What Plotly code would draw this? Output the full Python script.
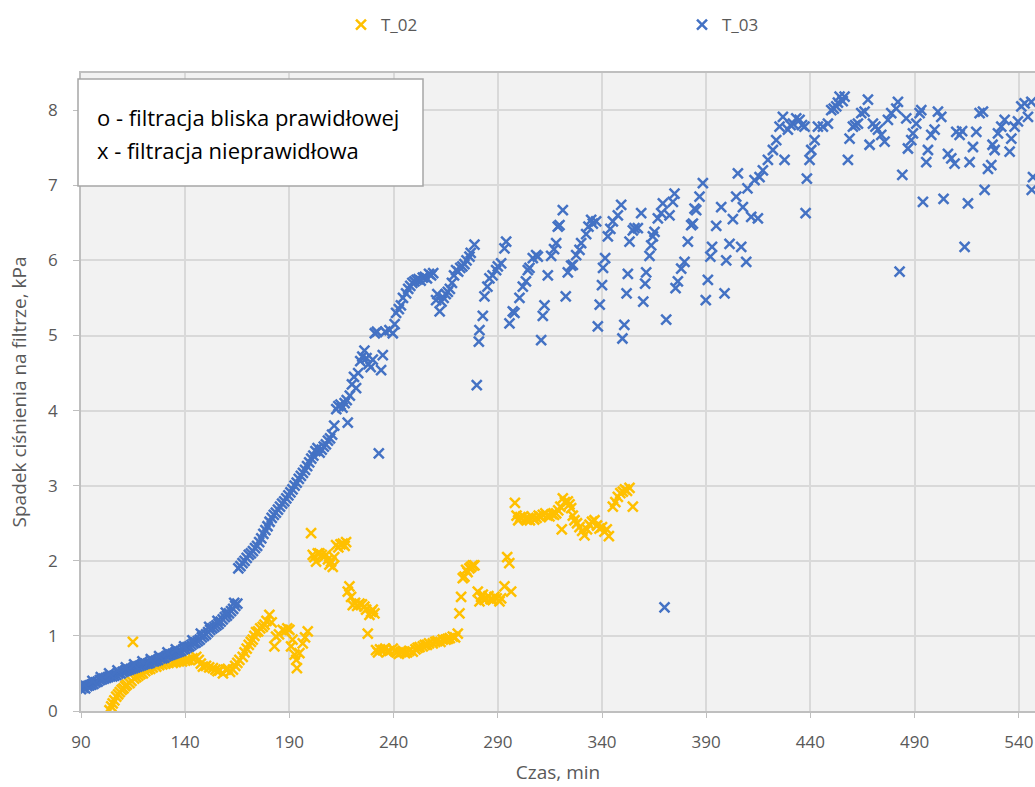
import plotly.graph_objects as go

# ---------------- data ----------------
t02_x = [103.7, 104.5, 105.2, 106, 106.9, 107.8, 108.6, 109.5, 110.4, 111.2, 112, 113.3, 114.2, 114.9, 115.5,
         116.5, 117.5, 118.5, 119.7, 120.8, 122, 123.2, 124.4, 126.1, 127.5, 129, 130.5, 132, 134, 135.5,
         137, 138.5, 140, 141, 142, 143.5, 145.3, 146.5, 147.5, 148.5, 150, 151.5, 153.3, 154.5, 155.5,
         156.5, 158.1, 159.5, 160.5, 161.5, 162.9, 164, 165, 166, 167.6, 168.5, 169.5, 170.5, 171.5, 172.4,
         173.2, 174, 175, 176, 177.2, 178, 179, 180.4, 181.5, 182.8, 183.6, 185, 186.8, 188, 189, 190,
         190.8, 191.5, 192.5, 193.3, 193.6, 194.8, 196.4, 197.5, 198.8, 200.4, 201.2, 202, 202.8, 203.6,
         204.4, 205.5, 206.5, 207.6, 208.5, 209.2, 210, 210.8, 211.5, 212.4, 213.5, 214.5, 215.6, 216.5,
         217.2, 218, 218.8, 219.6, 220.4, 221.5, 222.5, 223.6, 224.8, 226, 226.8, 227.6, 228.4, 229.2, 230,
         230.8, 231.6, 232.5, 233.5, 234.8, 236, 237, 238, 239.6, 240.5, 241.5, 242.5, 243.5, 244.4, 245.5,
         246.5, 247.5, 249.2, 250.5, 251.5, 252.5, 254, 255, 256, 257, 258.8, 260, 261, 262.5, 263.6, 265,
         266, 267, 268.4, 269.5, 270.8, 271.6, 272.4, 273.2, 274, 274.8, 275.5, 276.4, 277.2, 278, 278.8,
         280.4, 281.2, 282, 282.8, 283.6, 284.4, 285.5, 286.5, 287.6, 288.4, 289.5, 290.8, 291.6, 293.2,
         294.5, 295.5, 296.4, 298.2, 299, 299.8, 300.8, 302.2, 303.2, 304.2, 305.4, 306.5, 307.5, 308.6,
         309.6, 310.6, 311.6, 312.8, 313.8, 314.8, 316, 317, 318, 319, 320, 320.7, 321.2, 322.2, 323.6,
         324.4, 325.2, 326, 326.8, 328, 329.2, 330.5, 331.6, 332.8, 334, 335.2, 336.4, 337.6, 338.8, 340,
         341.2, 342.3, 343.3, 345.2, 346.4, 347.6, 348.8, 350, 351, 352, 353.2, 354.8]
t02_y = [0.01, 0.06, 0.10, 0.14, 0.19, 0.22, 0.25, 0.28, 0.30, 0.33, 0.35, 0.37, 0.40, 0.92, 0.43,
         0.45, 0.47, 0.49, 0.50, 0.53, 0.55, 0.56, 0.58, 0.59, 0.61, 0.62, 0.63, 0.64, 0.64, 0.65,
         0.66, 0.66, 0.67, 0.68, 0.68, 0.70, 0.72, 0.68, 0.63, 0.59, 0.60, 0.58, 0.57, 0.55, 0.53,
         0.54, 0.50, 0.55, 0.56, 0.52, 0.55, 0.60, 0.64, 0.68, 0.72, 0.78, 0.83, 0.88, 0.92, 0.95,
         1.00, 1.05, 1.06, 1.10, 1.12, 1.15, 1.20, 1.28, 1.18, 0.86, 0.99, 1.02, 1.08, 1.06, 1.10, 1.08,
         0.86, 0.95, 0.75, 0.68, 0.57, 0.77, 0.90, 0.98, 1.06, 2.37, 2.08, 2.05, 1.99, 2.10,
         2.10, 2.08, 2.05, 2.08, 2.02, 1.95, 1.99, 1.92, 2.05, 2.21, 2.18, 2.22, 2.23, 2.20,
         2.25, 1.59, 1.66, 1.52, 1.41, 1.44, 1.40, 1.43, 1.42, 1.39, 1.35, 1.03, 1.28, 1.32, 1.35,
         1.30, 0.81, 0.78, 0.82, 0.81, 0.83, 0.79, 0.80, 0.83, 0.80, 0.78, 0.76, 0.78, 0.79, 0.77,
         0.78, 0.80, 0.79, 0.82, 0.84, 0.85, 0.86, 0.88, 0.88, 0.90, 0.90, 0.92, 0.93, 0.92, 0.95, 0.95,
         0.96, 0.97, 0.99, 0.98, 1.03, 1.30, 1.52, 1.77, 1.79, 1.88, 1.85, 1.90, 1.92, 1.94, 1.94,
         1.59, 1.46, 1.52, 1.55, 1.48, 1.50, 1.53, 1.49, 1.48, 1.52, 1.50, 1.46, 1.50, 1.66,
         2.05, 1.97, 1.59, 2.77, 2.60, 2.54, 2.58, 2.59, 2.56, 2.55, 2.54, 2.58, 2.55, 2.57,
         2.60, 2.58, 2.61, 2.63, 2.60, 2.59, 2.62, 2.61, 2.63, 2.67, 2.72, 2.42, 2.83, 2.78, 2.79,
         2.75, 2.70, 2.60, 2.54, 2.50, 2.45, 2.40, 2.34, 2.42, 2.48, 2.52, 2.54, 2.47, 2.43, 2.45,
         2.39, 2.42, 2.33, 2.72, 2.78, 2.85, 2.90, 2.92, 2.95, 2.93, 2.97, 2.72]

t03_x = [90, 91, 92, 93, 94, 95, 96, 97, 98, 99, 100, 101, 102, 103, 104, 105, 106, 107, 108, 109,
         110, 111, 112, 113, 114, 115, 116, 117, 118, 119, 120, 121, 122, 123, 124, 125, 126, 127, 128, 129,
         130, 131, 132, 133, 134, 135, 136, 137, 138, 139, 140, 141, 142, 143, 144, 145, 146, 147, 148, 149,
         150, 151, 152, 153, 154, 155, 156, 157, 158, 159, 160, 161, 162, 163, 164, 165,
         91.5, 95.5, 99.5, 103.5, 107.5, 111.5, 115.5, 119.5, 123.5, 127.5, 131.5, 135.5, 139.5, 143.5,
         147.5, 151.5, 155.5, 159.5, 163.5,
         165.5, 166.5, 167.5, 168.5, 169.5, 170.5, 171.5, 172.5, 173.5, 174.5, 175.5, 176.5, 177.5, 178.5,
         179.5, 180.5, 181.5, 182.5, 183.5, 184.5, 185.5, 186.5, 187.5, 188.5, 189.5, 190.5, 191.5, 192.5,
         193.5, 194.5, 195.5, 196.5, 197.5, 198.5, 199.5, 200.5, 201.5, 202.5, 203.5, 204.5, 205.5, 206.5,
         207.5, 208.5, 209.5, 210.5, 211.5, 212.5, 213.5, 214.5, 215.5, 216.5, 217.5, 218, 219, 220, 221,
         222, 223, 224, 225, 226, 227, 228, 229, 230, 231, 232, 232.9, 234, 234.8, 236, 238, 239.6, 240.5,
         241.2, 242.5, 243.5, 244.5, 246, 247, 248, 249, 250, 251, 252, 253, 254, 255, 256, 257, 258, 259,
         260.4, 261, 262.1, 263, 264, 265, 266, 267, 268, 269, 270, 271, 272, 273, 274, 275, 276.4, 277,
         278.8,
         279.9, 280.9, 281.2, 282.8, 283.6, 285, 286, 287.5, 289.2, 290, 291.6, 293.2, 294,
         295.6, 297.2, 298, 300.4, 302, 303.5, 304.4, 305.2, 306.8, 308.4, 309.2,
         310.8, 311.6, 312.4, 314, 315.6, 317, 318, 318.8, 319.6, 321.2,
         322.6, 323.6, 325.2, 326, 327.6, 329.2, 330, 332.4, 333.5, 334.8, 335.6, 337.2,
         338, 338.9, 340, 340.5, 341.5, 342.8, 344, 345.2, 347.6, 349.2,
         349.8, 350.7, 351.8, 352.4, 353.2, 354.8, 355.6, 357.2, 358.8,
         359.8, 360.7, 361.2, 362.8, 363.6, 364.4, 365.2, 366.8, 368.4, 369.2,
         370, 370.8, 372.4, 374, 374.8,
         375.3, 376.4, 378, 379.6, 381.2, 382.8, 383.6, 384.4, 385.2, 386.8, 388.4,
         389.8, 390.8, 392, 392.8, 394.8, 397.2,
         398.8, 399.6, 401.2, 402.8, 404.4, 405.2,
         406.8, 407.6, 409.2, 409.8, 411.6, 413.2, 414.8, 415.6, 417.2, 419.6, 422, 423.6, 425.2, 426.8,
         427.6, 429.2, 430.5, 431.6, 433.2, 434.8, 436, 437.2, 437.7, 438.3, 439.6, 440.4, 442, 443.6,
         446, 448.4, 450, 451.2, 452.4, 453.2, 454, 455.5, 456.4, 458, 458.8, 460.4, 461.5, 462.8,
         464.4, 466, 467.6, 468.4, 470, 471.2, 472.4, 474, 475.6, 477.2, 478.8, 481.2, 482, 482.8,
         484.1, 486, 486.8, 488.4, 489.2, 490.8, 492.4, 493.2, 494, 495.6, 496.4, 498, 499.6, 501.2,
         502.8, 503.9, 506, 507.6, 509.2, 510, 511.6, 512.8, 514, 515.6, 516.4, 518, 519.6, 521.2,
         522.8, 523.6, 525.2, 526.8, 527.4, 528.4, 530, 531.6, 533.2, 535.6, 536.4, 538, 539.6, 541.2,
         542.8, 544.4, 546, 546.8, 546.2]
t03_y = [0.29, 0.31, 0.30, 0.33, 0.34, 0.35, 0.36, 0.38, 0.39, 0.41, 0.42, 0.43, 0.44, 0.45, 0.46, 0.46,
         0.47, 0.48, 0.50, 0.50, 0.52, 0.53, 0.54, 0.55, 0.56, 0.57, 0.58, 0.59, 0.60, 0.61, 0.62, 0.63,
         0.63, 0.64, 0.66, 0.66, 0.67, 0.68, 0.70, 0.70, 0.71, 0.73, 0.74, 0.75, 0.76, 0.77, 0.78, 0.79,
         0.80, 0.82, 0.83, 0.85, 0.86, 0.88, 0.90, 0.91, 0.93, 0.95, 0.98, 1.00, 1.02, 1.05, 1.08, 1.10,
         1.12, 1.14, 1.16, 1.19, 1.22, 1.25, 1.27, 1.30, 1.33, 1.36, 1.40, 1.43,
         0.35, 0.40, 0.45, 0.50, 0.54, 0.58, 0.62, 0.66, 0.69, 0.73, 0.78, 0.82, 0.86, 0.94,
         1.03, 1.12, 1.20, 1.31, 1.44,
         1.90, 1.93, 1.97, 2.00, 2.04, 2.08, 2.10, 2.13, 2.17, 2.20, 2.25, 2.30, 2.36, 2.41,
         2.46, 2.52, 2.57, 2.61, 2.64, 2.68, 2.72, 2.76, 2.79, 2.83, 2.87, 2.91, 2.95, 3.00,
         3.04, 3.09, 3.13, 3.17, 3.21, 3.26, 3.31, 3.36, 3.40, 3.46, 3.50, 3.44, 3.48, 3.52,
         3.55, 3.60, 3.63, 3.68, 3.80, 4.02, 4.06, 4.08, 4.04, 4.10, 4.14, 3.84, 4.20, 4.35, 4.45,
         4.30, 4.50, 4.66, 4.72, 4.80, 4.70, 4.62, 4.58, 4.68, 5.03, 5.05, 3.43, 4.54, 4.74, 5.05, 5.07, 5.03, 5.15,
         5.30, 5.35, 5.40, 5.50, 5.56, 5.62, 5.66, 5.70, 5.72, 5.74, 5.75, 5.73, 5.77, 5.78, 5.76, 5.82, 5.80, 5.83,
         5.47, 5.55, 5.32, 5.45, 5.50, 5.55, 5.58, 5.62, 5.70, 5.80, 5.87, 5.85, 5.90, 5.92, 5.95, 6.00, 6.05, 6.10,
         6.21,
         4.34, 4.92, 5.07, 5.26, 5.52, 5.65, 5.76, 5.80, 5.87, 5.92, 5.96, 6.16, 6.25,
         5.16, 5.32, 5.30, 5.50, 5.65, 5.72, 5.87, 5.90, 6.03, 6.07, 6.05,
         4.94, 5.26, 5.40, 5.80, 6.06, 6.15, 6.23, 6.45, 6.47, 6.67,
         5.52, 5.84, 5.93, 5.94, 6.07, 6.14, 6.23, 6.35, 6.45, 6.54, 6.49, 6.52,
         5.12, 5.41, 5.67, 5.90, 6.03, 6.32, 6.42, 6.52, 6.60, 6.74,
         4.96, 5.14, 5.56, 5.82, 6.25, 6.40, 6.43, 6.43, 6.63,
         5.45, 5.69, 5.84, 6.06, 6.20, 6.32, 6.38, 6.56, 6.63, 6.76,
         1.38, 5.21, 6.60, 6.78, 6.89,
         5.63, 5.72, 5.89, 5.98, 6.25, 6.47, 6.49, 6.69, 6.67, 6.85, 7.03,
         5.47, 5.74, 6.05, 6.18, 6.46, 6.71,
         5.56, 6.00, 6.22, 6.55, 6.85, 7.16,
         6.18, 6.71, 5.98, 6.96, 6.58, 7.07, 6.56, 7.11, 7.20, 7.34, 7.47, 7.60, 7.78, 7.91,
         7.34, 7.74, 7.80, 7.82, 7.89, 7.87, 7.80, 7.78, 6.63, 7.09, 7.34, 7.47, 7.60, 7.78,
         7.78, 7.82, 8.00, 8.02, 8.05, 8.10, 8.18, 8.12, 8.18, 7.34, 7.62, 7.78, 7.80, 7.82,
         7.96, 7.98, 8.14, 7.54, 7.82, 7.78, 7.74, 7.67, 7.58, 7.87, 7.96, 8.02, 8.11, 5.85,
         7.14, 7.89, 7.49, 7.60, 7.69, 7.82, 7.96, 8.00, 6.78, 7.31, 7.47, 7.67, 7.74, 7.98,
         7.91, 6.82, 7.42, 7.36, 7.29, 7.71, 7.67, 7.72, 6.18, 6.76, 7.31, 7.51, 7.71, 7.96,
         7.98, 6.94, 7.22, 7.27, 7.54, 7.47, 7.69, 7.78, 7.87, 7.45, 7.62, 7.78, 7.85, 8.05,
         8.09, 7.91, 8.11, 7.11, 6.94]

x_ticks = [90, 140, 190, 240, 290, 340, 390, 440, 490, 540]
y_ticks = [0, 1, 2, 3, 4, 5, 6, 7, 8]
note_lines = ["o - filtracja bliska prawidłowej", "x - filtracja nieprawidłowa"]

# ---------------- figure ----------------
FONT = "Open Sans"
GREY = "#595959"
YELLOW = "#FFC000"
BLUE = "#4472C4"

fig = go.Figure()
fig.add_trace(go.Scatter(
    x=t02_x, y=t02_y, mode="markers", name="T_02",
    marker=dict(symbol="x-thin", size=10, color=YELLOW, line=dict(color=YELLOW, width=2.5)),
))
fig.add_trace(go.Scatter(
    x=t03_x, y=t03_y, mode="markers", name="T_03",
    marker=dict(symbol="x-thin", size=10, color=BLUE, line=dict(color=BLUE, width=2.5)),
))

W, H = 1035, 787
L, R, T, B = 81, 0, 73, 76
pw = W - L - R
ph = H - T - B

fig.update_layout(
    width=W, height=H,
    margin=dict(l=L, r=R, t=T, b=B, autoexpand=False),
    paper_bgcolor="white",
    plot_bgcolor="#F2F2F2",
    font=dict(family=FONT, size=16, color=GREY),
    showlegend=True,
    legend=dict(
        orientation="h", x=(341 - L) / pw, xanchor="left",
        y=1 + (T - 25) / ph, yanchor="middle",
        entrywidth=296, entrywidthmode="pixels", itemwidth=30,
        font=dict(family=FONT, size=17, color=GREY),
        bgcolor="rgba(0,0,0,0)",
    ),
)

fig.update_xaxes(
    range=[90, 90 + pw / 2.084],
    tickvals=x_ticks, ticktext=[str(v) for v in x_ticks],
    showgrid=True, gridcolor="#D9D9D9", gridwidth=2,
    showline=True, linecolor="#BFBFBF", linewidth=1.5, mirror=True,
    ticks="outside", ticklen=5, tickcolor="#BFBFBF",
    ticklabelstandoff=10,
    zeroline=False,
    tickfont=dict(family=FONT, size=17, color=GREY),
    title=dict(text="Czas, min", font=dict(family=FONT, size=19, color=GREY), standoff=14),
)
fig.update_yaxes(
    range=[0, ph / 75.1],
    tickvals=y_ticks, ticktext=[str(v) for v in y_ticks],
    showgrid=True, gridcolor="#D9D9D9", gridwidth=2,
    showline=True, linecolor="#BFBFBF", linewidth=1.5, mirror=True,
    ticks="outside", ticklen=6, tickcolor="#BFBFBF",
    ticklabelstandoff=12,
    zeroline=False,
    tickfont=dict(family=FONT, size=17, color=GREY),
    title=dict(text="Spadek ciśnienia na filtrze, kPa", font=dict(family=FONT, size=19, color=GREY), standoff=16),
)

# note box
fig.add_shape(
    type="rect", xref="paper", yref="paper",
    x0=(78 - L) / pw, x1=(423 - L) / pw,
    y0=1 - (186 - T) / ph, y1=1 - (79 - T) / ph,
    fillcolor="white", line=dict(color="#A6A6A6", width=1.5), layer="above",
)
for i, line in enumerate(note_lines):
    fig.add_annotation(
        xref="paper", yref="paper",
        x=(95 - L) / pw, xanchor="left",
        y=1 - (117 + 33 * i - T) / ph, yanchor="middle",
        text=line, showarrow=False,
        font=dict(family=FONT, size=22, color="#000000"),
    )

fig.write_html("out.html")
